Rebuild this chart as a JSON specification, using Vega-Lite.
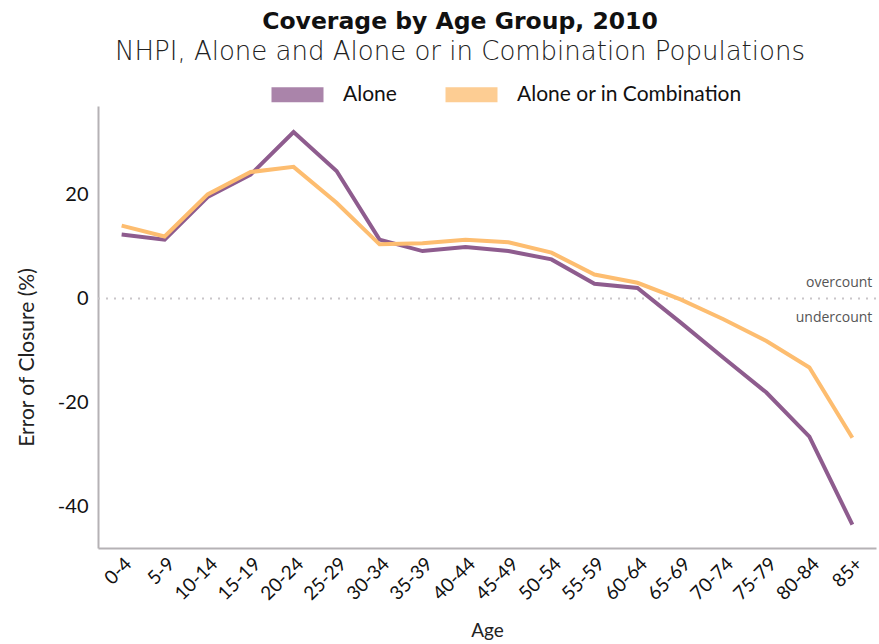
{
  "$schema": "https://vega.github.io/schema/vega-lite/v6.json",
  "width": 778,
  "height": 442,
  "autosize": {"type": "none"},
  "padding": {"left": 98, "top": 106, "right": 3, "bottom": 96},
  "background": "white",
  "title": {
    "text": "Coverage by Age Group, 2010",
    "subtitle": "NHPI, Alone and Alone or in Combination Populations",
    "anchor": "middle",
    "dx": -27,
    "offset": -4,
    "font": "DejaVu Sans",
    "fontSize": 23.5,
    "fontWeight": "bold",
    "color": "#111111",
    "subtitleFont": "DejaVu Sans",
    "subtitleFontSize": 26,
    "subtitleFontWeight": 200,
    "subtitleColor": "#222222",
    "subtitlePadding": 6
  },
  "config": {
    "view": {"stroke": null},
    "font": "Lato",
    "axis": {
      "labelFont": "Lato",
      "titleFont": "Lato",
      "titleFontWeight": 400,
      "labelColor": "#111111",
      "titleColor": "#222222",
      "domainColor": "#b5b2b5",
      "domainWidth": 2,
      "ticks": false,
      "grid": false
    }
  },
  "datasets": {
    "coverage": [
      {"Age": "0-4", "Group": "Alone", "Error": 12.3},
      {"Age": "5-9", "Group": "Alone", "Error": 11.3},
      {"Age": "10-14", "Group": "Alone", "Error": 19.5},
      {"Age": "15-19", "Group": "Alone", "Error": 23.8},
      {"Age": "20-24", "Group": "Alone", "Error": 32.0},
      {"Age": "25-29", "Group": "Alone", "Error": 24.5},
      {"Age": "30-34", "Group": "Alone", "Error": 11.3},
      {"Age": "35-39", "Group": "Alone", "Error": 9.1},
      {"Age": "40-44", "Group": "Alone", "Error": 9.9},
      {"Age": "45-49", "Group": "Alone", "Error": 9.1},
      {"Age": "50-54", "Group": "Alone", "Error": 7.5},
      {"Age": "55-59", "Group": "Alone", "Error": 2.8},
      {"Age": "60-64", "Group": "Alone", "Error": 2.0},
      {"Age": "65-69", "Group": "Alone", "Error": -4.6},
      {"Age": "70-74", "Group": "Alone", "Error": -11.4},
      {"Age": "75-79", "Group": "Alone", "Error": -18.1},
      {"Age": "80-84", "Group": "Alone", "Error": -26.6},
      {"Age": "85+", "Group": "Alone", "Error": -43.5},
      {"Age": "0-4", "Group": "Alone or in Combination", "Error": 14.0},
      {"Age": "5-9", "Group": "Alone or in Combination", "Error": 11.9},
      {"Age": "10-14", "Group": "Alone or in Combination", "Error": 20.0},
      {"Age": "15-19", "Group": "Alone or in Combination", "Error": 24.3},
      {"Age": "20-24", "Group": "Alone or in Combination", "Error": 25.3},
      {"Age": "25-29", "Group": "Alone or in Combination", "Error": 18.4},
      {"Age": "30-34", "Group": "Alone or in Combination", "Error": 10.4},
      {"Age": "35-39", "Group": "Alone or in Combination", "Error": 10.6},
      {"Age": "40-44", "Group": "Alone or in Combination", "Error": 11.3},
      {"Age": "45-49", "Group": "Alone or in Combination", "Error": 10.8},
      {"Age": "50-54", "Group": "Alone or in Combination", "Error": 8.8},
      {"Age": "55-59", "Group": "Alone or in Combination", "Error": 4.6},
      {"Age": "60-64", "Group": "Alone or in Combination", "Error": 3.0},
      {"Age": "65-69", "Group": "Alone or in Combination", "Error": -0.2},
      {"Age": "70-74", "Group": "Alone or in Combination", "Error": -4.0},
      {"Age": "75-79", "Group": "Alone or in Combination", "Error": -8.2},
      {"Age": "80-84", "Group": "Alone or in Combination", "Error": -13.3},
      {"Age": "85+", "Group": "Alone or in Combination", "Error": -26.8}
    ],
    "notes": [
      {"Note": "overcount", "Age": "85+", "Error": 2.9},
      {"Note": "undercount", "Age": "85+", "Error": -3.7}
    ],
    "zero": [{"Error": 0}]
  },
  "layer": [
    {
      "data": {"name": "zero"},
      "mark": {"type": "rule", "color": "#c9c6c9", "strokeWidth": 2, "strokeDash": [2, 6]},
      "encoding": {"y": {"field": "Error", "type": "quantitative"}}
    },
    {
      "data": {"name": "coverage"},
      "mark": {"type": "line", "strokeWidth": 4, "strokeJoin": "miter"},
      "encoding": {
        "x": {
          "field": "Age",
          "type": "ordinal",
          "sort": null,
          "scale": {"type": "point", "padding": 0.55},
          "axis": {
            "title": "Age",
            "titleFontSize": 19,
            "titlePadding": 18,
            "labelFontSize": 19,
            "labelAngle": -45,
            "labelPadding": 6
          }
        },
        "y": {
          "field": "Error",
          "type": "quantitative",
          "scale": {"domain": [-48, 37], "nice": false, "zero": false},
          "axis": {
            "title": "Error of Closure (%)",
            "titleFontSize": 21,
            "titlePadding": 20,
            "titleY": 251,
            "labelFontSize": 20,
            "labelPadding": 10,
            "values": [-40, -20, 0, 20],
            "labelExpr": "replace(datum.label, '−', '-')"
          }
        },
        "color": {
          "field": "Group",
          "type": "nominal",
          "scale": {"domain": ["Alone", "Alone or in Combination"], "range": ["#8e5c8e", "#fdbd70"]},
          "legend": {
            "title": null,
            "orient": "none",
            "direction": "horizontal",
            "legendX": 166,
            "legendY": -45,
            "symbolType": "stroke",
            "symbolStrokeWidth": 15,
            "symbolSize": 2704,
            "symbolOpacity": 0.75,
            "labelFont": "Lato",
            "labelFontSize": 21,
            "labelLimit": 400,
            "labelColor": "#111111",
            "labelOffset": 12,
            "columnPadding": 18
          }
        }
      }
    },
    {
      "data": {"name": "notes"},
      "mark": {"type": "text", "align": "right", "baseline": "middle", "dx": 20, "font": "Open Sans", "fontSize": 14, "color": "#555555"},
      "encoding": {
        "x": {"field": "Age", "type": "ordinal", "sort": null},
        "y": {"field": "Error", "type": "quantitative"},
        "text": {"field": "Note"}
      }
    }
  ]
}
